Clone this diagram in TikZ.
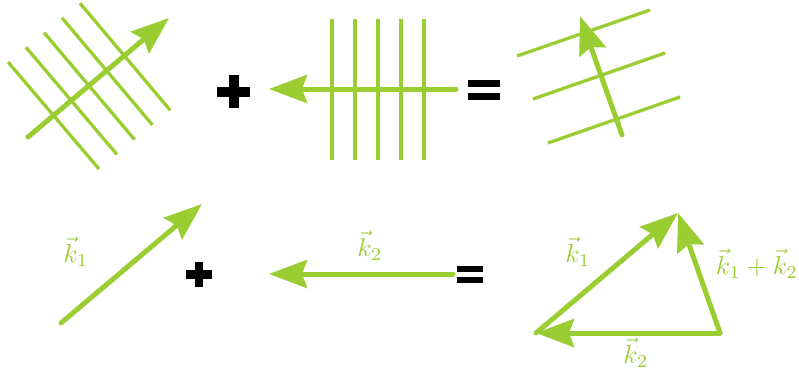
\documentclass[tikz,border=0pt]{standalone}
\usetikzlibrary{arrows.meta}
\definecolor{kgreen}{RGB}{154,205,50}
\tikzset{
  hatch/.style={draw=kgreen, line width=3.3pt},
  wave/.style={draw=kgreen, line width=5pt, line cap=round,
    -{Stealth[length=38pt,width=28pt,inset=5pt]}},
  klabel/.style={text=kgreen, scale=2.6, inner sep=0pt},
  opsign/.style={draw=black},
}
\begin{document}
\begin{tikzpicture}[x=1pt,y=-1pt]
\useasboundingbox (0,0) rectangle (799,375);
% ---------- top left ----------
\foreach \i in {0,...,4}{
  \draw[hatch] (8+18*\i,62-14.7*\i) -- (99+17.8*\i,169-14.7*\i);
}
\coordinate (t1s) at (28,137);
\coordinate (t1e) at (169,18);
\draw[wave] (t1s) -- (t1e);
% plus
\draw[opsign, line width=10pt] (217,91.5) -- (249.5,91.5) (233.5,75) -- (233.5,107.5);
% ---------- top middle ----------
\foreach \x in {332,355,378,401,424}{
  \draw[hatch] (\x,19) -- (\x,160);
}
\coordinate (t2s) at (456,89);
\coordinate (t2e) at (269,89);
\draw[wave] (t2s) -- (t2e);
% equals
\fill (468,80) rectangle (500,87);
\fill (468,93) rectangle (500,99.5);
% ---------- top right ----------
\draw[hatch] (517,56) -- (650,10);
\draw[hatch] (533,99) -- (665,53);
\draw[hatch] (548,143) -- (680,97);
\coordinate (t3s) at (622,135);
\coordinate (t3e) at (580,16);
\draw[wave] (t3s) -- (t3e);
% ---------- bottom left ----------
\coordinate (b1s) at (61,323);
\coordinate (b1e) at (202,204);
\draw[wave] (b1s) -- (b1e);
\node[klabel] (lk1) at (76,252) {$\vec{k}_1$};
\draw[opsign, line width=8.5pt] (186,274.5) -- (212,274.5) (199,262) -- (199,287);
\coordinate (b2s) at (453,274);
\coordinate (b2e) at (269,274);
\draw[wave] (b2s) -- (b2e);
\node[klabel] (lk2) at (370,246) {$\vec{k}_2$};
\fill (457,266) rectangle (483,272);
\fill (457,277) rectangle (483,283);
% ---------- bottom right triangle ----------
\coordinate (A) at (536,333);
\coordinate (B) at (678,213);
\coordinate (C) at (720,333);
\draw[wave] (A) -- (B);
\draw[wave] (C) -- (A);
\draw[wave] (C) -- (B);
\node[klabel] (tk1) at (578,252) {$\vec{k}_1$};
\node[klabel] (tk12) at (757,264) {$\vec{k}_1+\vec{k}_2$};
\node[klabel] (tk2) at (636,353) {$\vec{k}_2$};
\end{tikzpicture}
\end{document}
